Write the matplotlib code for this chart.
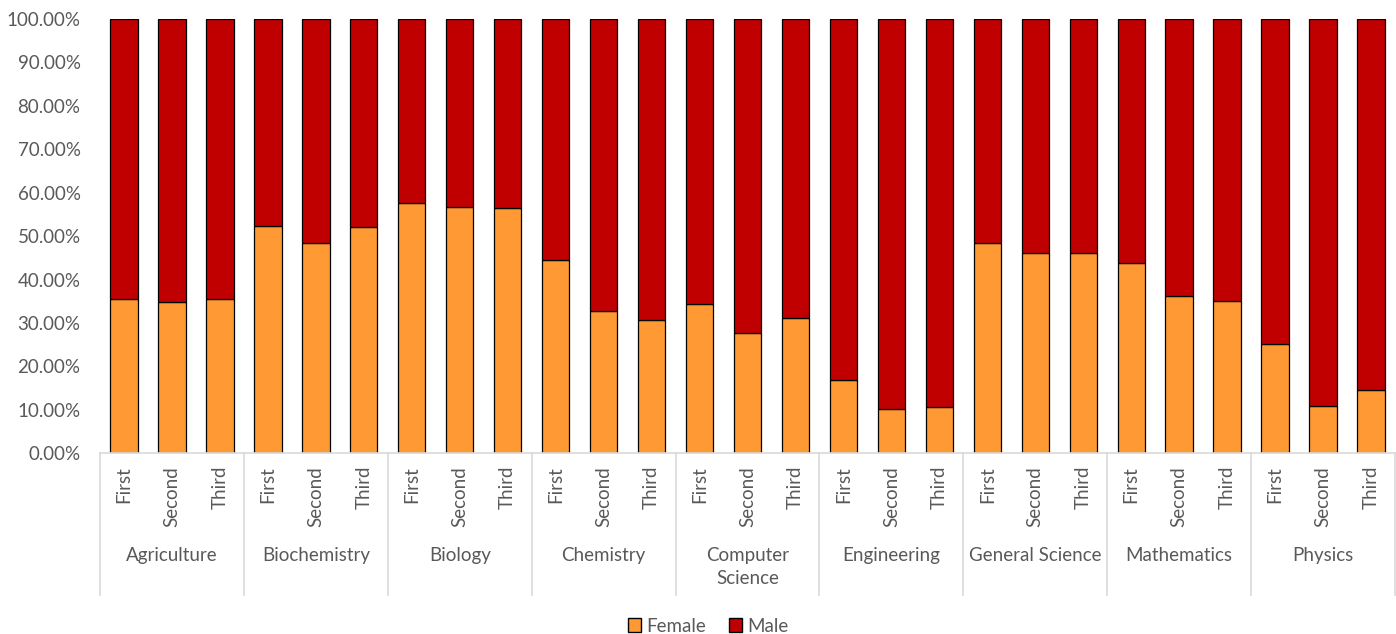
import matplotlib
matplotlib.use("Agg")
import matplotlib.pyplot as plt
from matplotlib.patches import Patch
import matplotlib.transforms as mtransforms

plt.rcParams['font.family'] = ['Lato', 'DejaVu Sans']

subjects = ["Agriculture", "Biochemistry", "Biology", "Chemistry", "Computer\nScience",
            "Engineering", "General Science", "Mathematics", "Physics"]
years = ["First", "Second", "Third"]
female = [35.5, 34.9, 35.5,
          52.4, 48.5, 52.0,
          57.6, 56.8, 56.4,
          44.5, 32.7, 30.6,
          34.3, 27.6, 31.1,
          16.9, 10.2, 10.6,
          48.5, 46.2, 46.2,
          43.8, 36.3, 35.0,
          25.2, 11.0, 14.6]
male = [100 - f for f in female]

W, H = 1396, 634
fig = plt.figure(figsize=(W / 100, H / 100), dpi=100)
x0, x1 = 100, 1395
ytop, ybot = 19, 453.3
ax = fig.add_axes([x0 / W, 1 - ybot / H, (x1 - x0) / W, (ybot - ytop) / H])

n = len(female)
pos = list(range(n))
c_f = "#FF9933"
c_m = "#C00000"
ax.bar(pos, female, width=0.57, color=c_f, edgecolor="black", linewidth=0.9, label="Female")
ax.bar(pos, male, bottom=female, width=0.57, color=c_m, edgecolor="black", linewidth=0.9, label="Male")

fs = 13.5
ax.set_xlim(-0.5, n - 0.5)
ax.set_ylim(0, 100)
ax.set_yticks(range(0, 101, 10))
ax.set_yticklabels([f"{v:.2f}%" for v in range(0, 101, 10)])
ax.tick_params(axis='y', length=0, labelsize=fs, labelcolor="#595959", pad=14)
ax.set_xticks(pos)
ax.set_xticklabels(years * len(subjects), rotation=90, fontsize=fs, color="#595959")
ax.tick_params(axis='x', length=0, pad=9)
for s in ["top", "right", "left"]:
    ax.spines[s].set_visible(False)
ax.spines["bottom"].set_color("#D9D9D9")
ax.spines["bottom"].set_linewidth(1.2)

trans = mtransforms.blended_transform_factory(ax.transData, ax.transAxes)
span = ybot - ytop
ylow = -(595 - ybot) / span
for g in range(len(subjects) + 1):
    xb = g * 3 - 0.5
    ax.plot([xb, xb], [0, ylow], transform=trans, color="#D9D9D9", lw=1.2, clip_on=False)
for g, name in enumerate(subjects):
    ax.text(g * 3 + 1, -(547 - ybot) / span, name, transform=trans, ha="center", va="top",
            fontsize=fs, color="#595959", linespacing=1.45)

handles = [Patch(facecolor=c_f, edgecolor="black", label="Female"),
           Patch(facecolor=c_m, edgecolor="black", label="Male")]
fig.legend(handles=handles, loc="center", bbox_to_anchor=(708 / W, 1 - 626 / H), ncol=2,
           frameon=False, fontsize=fs, labelcolor="#595959", handlelength=0.7, handleheight=0.8,
           handletextpad=0.3, columnspacing=1.2)

fig.savefig("out.png", dpi=100)
